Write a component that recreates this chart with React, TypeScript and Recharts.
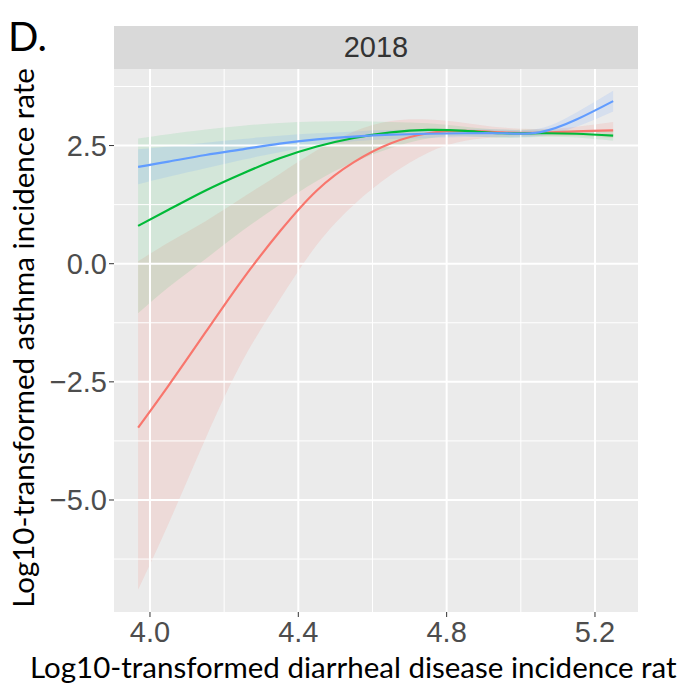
import { ComposedChart, Area, Line, XAxis, YAxis, ReferenceLine } from "recharts";

// fitted curves (x = log10 diarrheal incidence)
const xs = [3.968, 4.05, 4.15, 4.25, 4.35, 4.45, 4.55, 4.65, 4.75, 4.85, 4.95, 5.05, 5.15, 5.249];

const redFit = [-3.47, -2.58, -1.45, -0.33, 0.68, 1.55, 2.15, 2.55, 2.76, 2.81, 2.78, 2.77, 2.8, 2.82];
const redLow = [-6.9, -5.5, -3.7, -2.05, -0.76, 0.4, 1.25, 1.88, 2.35, 2.6, 2.68, 2.7, 2.7, 2.66];
const redHigh = [0.05, 0.45, 0.9, 1.4, 1.9, 2.4, 2.8, 3.02, 3.05, 2.98, 2.88, 2.85, 2.9, 3.0];

const greenFit = [0.8, 1.14, 1.55, 1.91, 2.23, 2.48, 2.66, 2.78, 2.83, 2.81, 2.76, 2.76, 2.75, 2.71];
const greenLow = [-1.05, -0.5, 0.1, 0.7, 1.25, 1.75, 2.15, 2.45, 2.65, 2.7, 2.66, 2.68, 2.67, 2.6];
const greenHigh = [2.65, 2.74, 2.84, 2.92, 2.98, 3.01, 3.02, 3.0, 2.97, 2.9, 2.84, 2.84, 2.83, 2.82];

const blueFit = [2.05, 2.16, 2.3, 2.42, 2.54, 2.63, 2.69, 2.73, 2.75, 2.76, 2.76, 2.78, 3.05, 3.44];
const blueLow = [1.68, 1.84, 2.02, 2.2, 2.36, 2.5, 2.59, 2.64, 2.66, 2.68, 2.68, 2.7, 2.9, 3.22];
const blueHigh = [2.42, 2.48, 2.56, 2.64, 2.71, 2.76, 2.8, 2.83, 2.84, 2.84, 2.84, 2.86, 3.2, 3.66];

const xTicks = [4.0, 4.4, 4.8, 5.2];
const xMinor = [4.2, 4.6, 5.0];
const yTicks = [-5, -2.5, 0, 2.5];
const yMinor = [-6.25, -3.75, -1.25, 1.25, 3.75];

const RED = "#F8766D";
const GREEN = "#00BA38";
const BLUE = "#619CFF";

const data = xs.map((x, i) => ({
  x,
  red: redFit[i],
  redBand: [redLow[i], redHigh[i]],
  green: greenFit[i],
  greenBand: [greenLow[i], greenHigh[i]],
  blue: blueFit[i],
  blueBand: [blueLow[i], blueHigh[i]],
}));

const tickFont = { fill: "#4D4D4D", fontSize: 29, fontFamily: "Liberation Sans, Arial, sans-serif" };
const fmt = (v: number) => v.toFixed(1).replace("-", "\u2212");

export default function App() {
  return (
    <div style={{ position: "absolute", left: 0, top: 0, width: 677, height: 692, background: "#fff", overflow: "hidden" }}>
      <div style={{ position: "absolute", left: 8, top: 12, fontFamily: "Lato, sans-serif", fontSize: 40, color: "#000" }}>D.</div>
      <div
        style={{
          position: "absolute",
          left: 114,
          top: 26,
          width: 524,
          height: 43,
          background: "#D9D9D9",
          color: "#333",
          fontFamily: "Liberation Sans, Arial, sans-serif",
          fontSize: 29,
          lineHeight: "43px",
          textAlign: "center",
        }}
      >
        2018
      </div>
      <ComposedChart width={677} height={692} data={data} margin={{ top: 69, right: 39, bottom: 40, left: 0 }}>
        <rect x={114} y={69} width={524} height={543} fill="#EBEBEB" />
        {xMinor.map((v) => (
          <ReferenceLine key={"xm" + v} x={v} stroke="#fff" strokeWidth={1} />
        ))}
        {yMinor.map((v) => (
          <ReferenceLine key={"ym" + v} y={v} stroke="#fff" strokeWidth={1} />
        ))}
        {xTicks.map((v) => (
          <ReferenceLine key={"x" + v} x={v} stroke="#fff" strokeWidth={2} />
        ))}
        {yTicks.map((v) => (
          <ReferenceLine key={"y" + v} y={v} stroke="#fff" strokeWidth={2} />
        ))}
        <XAxis
          type="number"
          dataKey="x"
          domain={[3.903, 5.316]}
          allowDataOverflow
          ticks={xTicks}
          tickFormatter={fmt}
          tick={tickFont}
          tickLine={{ stroke: "#333" }}
          tickSize={5}
          tickMargin={4}
          axisLine={false}
          height={40}
        />
        <YAxis
          type="number"
          domain={[-7.37, 4.12]}
          allowDataOverflow
          ticks={yTicks}
          tickFormatter={fmt}
          tick={tickFont}
          tickLine={{ stroke: "#333" }}
          tickSize={5}
          tickMargin={2}
          axisLine={false}
          width={114}
        />
        <Area type="natural" dataKey="redBand" stroke="none" fill={RED} fillOpacity={0.15} isAnimationActive={false} />
        <Area type="natural" dataKey="greenBand" stroke="none" fill={GREEN} fillOpacity={0.1} isAnimationActive={false} />
        <Area type="natural" dataKey="blueBand" stroke="none" fill={BLUE} fillOpacity={0.15} isAnimationActive={false} />
        <Line type="natural" dataKey="red" stroke={RED} strokeWidth={2.2} dot={false} isAnimationActive={false} />
        <Line type="natural" dataKey="green" stroke={GREEN} strokeWidth={2.2} dot={false} isAnimationActive={false} />
        <Line type="natural" dataKey="blue" stroke={BLUE} strokeWidth={2.2} dot={false} isAnimationActive={false} />
      </ComposedChart>
      <div
        style={{
          position: "absolute",
          left: 22,
          top: 338,
          transform: "translate(-50%, -50%) rotate(-90deg)",
          whiteSpace: "nowrap",
          fontFamily: "Lato, sans-serif",
          fontSize: 29.5,
          color: "#000",
        }}
      >
        Log10-transformed asthma incidence rate
      </div>
      <div
        style={{
          position: "absolute",
          left: 30,
          top: 649,
          whiteSpace: "nowrap",
          fontFamily: "Lato, sans-serif",
          fontSize: 29.5,
          color: "#000",
        }}
      >
        Log10-transformed diarrheal disease incidence rate
      </div>
    </div>
  );
}
